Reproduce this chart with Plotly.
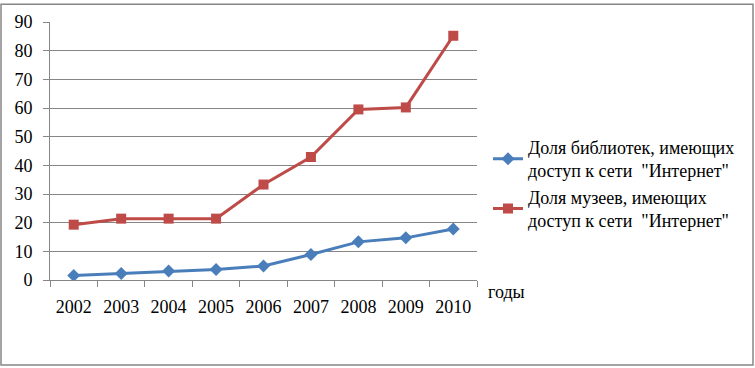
import plotly.graph_objects as go

years = ["2002", "2003", "2004", "2005", "2006", "2007", "2008", "2009", "2010"]
libraries = [1.6, 2.3, 3.1, 3.7, 4.9, 8.9, 13.3, 14.7, 17.8]
museums = [19.3, 21.4, 21.4, 21.4, 33.3, 42.9, 59.5, 60.2, 85.2]
name_lib = "Доля библиотек, имеющих<br>доступ к сети  \"Интернет\""
name_mus = "Доля музеев, имеющих<br>доступ к сети  \"Интернет\""

W, H = 755, 368
L, R, T, B = 50, 278, 19, 88
pw, ph = W - L - R, H - T - B

def px_x(p):
    return (p - L) / pw

def px_y(p):
    return (H - B - p) / ph

font = dict(family="Liberation Serif", size=18, color="black")

fig = go.Figure()
fig.add_trace(go.Scatter(x=years, y=libraries, name=name_lib, mode="lines+markers",
                         line=dict(color="#4A7EBB", width=3),
                         marker=dict(symbol="diamond", size=10, color="#4A7EBB")))
fig.add_trace(go.Scatter(x=years, y=museums, name=name_mus, mode="lines+markers",
                         line=dict(color="#BE4B48", width=3),
                         marker=dict(symbol="square", size=10, color="#BE4B48")))

fig.update_layout(
    width=W, height=H,
    margin=dict(l=L, r=R, t=T, b=B),
    paper_bgcolor="white", plot_bgcolor="white",
    font=font,
    showlegend=True,
    legend=dict(x=px_x(488), y=px_y(127), xanchor="left", yanchor="top",
                font=font, tracegroupgap=6, bgcolor="rgba(0,0,0,0)"),
    xaxis=dict(type="category", range=[-0.5, 8.5], tickson="boundaries",
               ticks="outside", ticklen=6, tickcolor="#868686",
               showline=True, linecolor="#868686", linewidth=1,
               showgrid=False, tickfont=font, ticklabelstandoff=10),
    yaxis=dict(range=[0, 90], dtick=10, ticks="outside", ticklen=6, tickcolor="#868686",
               showline=True, linecolor="#868686", linewidth=1,
               showgrid=True, gridcolor="#868686", gridwidth=1,
               zeroline=False, tickfont=font, ticklabelstandoff=7),
    annotations=[dict(text="годы", x=px_x(486), y=px_y(292), xref="paper", yref="paper",
                      xanchor="left", yanchor="middle", showarrow=False, font=font)],
    shapes=[dict(type="rect", xref="paper", yref="paper",
                 x0=px_x(1), x1=px_x(753), y0=px_y(366), y1=px_y(1),
                 line=dict(color="#868686", width=1.5), layer="below")],
)

fig.write_html("out.html", config={"displayModeBar": False},
               post_script="document.body.style.margin='0';")
